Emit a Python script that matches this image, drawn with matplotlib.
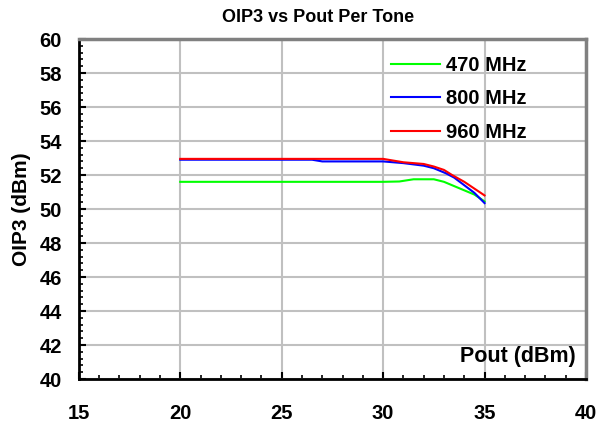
import matplotlib
matplotlib.use("Agg")
import matplotlib.pyplot as plt
from matplotlib.ticker import MultipleLocator, AutoMinorLocator

plt.rcParams['font.family'] = ['Liberation Sans', 'DejaVu Sans']
plt.rcParams['font.weight'] = 'bold'

x_470 = [20, 25, 30, 30.8, 31.5, 32.5, 33.0, 33.4, 34.0, 34.5, 35]
y_470 = [51.6, 51.6, 51.6, 51.62, 51.75, 51.75, 51.6, 51.4, 51.1, 50.85, 50.45]
x_800 = [20, 25, 26.5, 27, 30, 31, 32, 32.5, 33.1, 33.5, 34, 34.5, 35]
y_800 = [52.9, 52.9, 52.9, 52.8, 52.8, 52.7, 52.55, 52.4, 52.1, 51.85, 51.4, 50.95, 50.35]
x_960 = [20, 25, 30, 31, 32, 32.5, 33, 33.4, 34, 34.5, 35]
y_960 = [52.95, 52.95, 52.95, 52.75, 52.65, 52.5, 52.3, 52.0, 51.6, 51.2, 50.8]

labels = ['470 MHz', '800 MHz', '960 MHz']
colors = ['#00ff00', '#0000ff', '#ff0000']

fig = plt.figure(figsize=(6.06, 4.24), dpi=100)
ax = fig.add_axes([0.130, 0.106, 0.837, 0.802])

for xs, ys, lab, c in zip([x_470, x_800, x_960], [y_470, y_800, y_960], labels, colors):
    ax.plot(xs, ys, color=c, lw=1.5, label=lab)

ax.set_xlim(15, 40)
ax.set_ylim(40, 60)
ax.xaxis.set_major_locator(MultipleLocator(5))
ax.yaxis.set_major_locator(MultipleLocator(2))
ax.xaxis.set_minor_locator(AutoMinorLocator(5))
ax.yaxis.set_minor_locator(AutoMinorLocator(5))
ax.grid(True, which='major', color='#c0c0c0', lw=1.5)
ax.set_axisbelow(True)

ax.tick_params(which='major', direction='in', length=5, width=1.5, labelsize=14.5)
ax.tick_params(which='minor', direction='in', length=3, width=1.2)
ax.tick_params(axis='x', which='major', pad=18)
ax.tick_params(axis='y', which='major', pad=12)
for lbl in ax.get_xticklabels() + ax.get_yticklabels():
    lbl.set_fontweight('bold')

for s in ['left', 'bottom']:
    ax.spines[s].set_color('black')
    ax.spines[s].set_linewidth(2)
for s in ['top', 'right']:
    ax.spines[s].set_color('#808080')
    ax.spines[s].set_linewidth(2.5)

fig.text(318 / 606, 1 - 17 / 424, 'OIP3 vs Pout Per Tone', ha='center', va='center',
         fontsize=13, fontweight='bold')
ax.set_ylabel('OIP3 (dBm)', fontsize=15, fontweight='bold')
ax.yaxis.set_label_coords(-0.095, 0.5)
ax.text(0.98, 0.065, 'Pout (dBm)', transform=ax.transAxes, ha='right', va='center',
        fontsize=15.5, fontweight='bold')

leg = ax.legend(loc='upper left', bbox_to_anchor=(0.60, 0.975), frameon=False,
                fontsize=14.5, handlelength=2.4, handletextpad=0.3, labelspacing=0.72,
                borderaxespad=0)
for t in leg.get_texts():
    t.set_fontweight('bold')

fig.savefig('out.png', dpi=100)
